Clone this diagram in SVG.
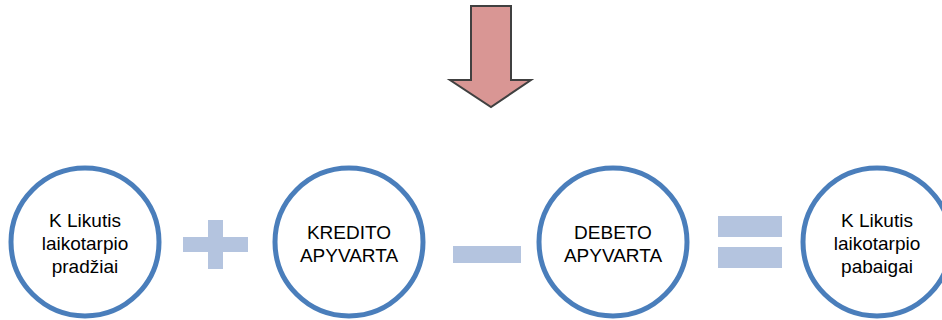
<svg xmlns="http://www.w3.org/2000/svg" width="942" height="320" viewBox="0 0 942 320">
<style>
.c{fill:#fff;stroke:#4A7EBB;stroke-width:5}
.t{font-family:"Liberation Sans",Arial,sans-serif;font-size:19px;fill:#000;text-anchor:middle}
.op{fill:#B4C4DF}
</style>
<rect width="942" height="320" fill="#fff"/>
<g id="arrow">
<polygon points="471,6 511,6 511,80 531,80 491,107 450,80 471,80" fill="#D99694" stroke="#404040" stroke-width="2" stroke-linejoin="miter"/>
</g>
<g id="node1">
<circle class="c" cx="85" cy="242" r="74"/>
<text class="t" x="85" y="227">K Likutis</text>
<text class="t" x="85" y="250">laikotarpio</text>
<text class="t" x="85" y="273">pradžiai</text>
</g>
<g id="plus">
<rect class="op" x="183" y="237" width="65" height="15"/>
<rect class="op" x="208" y="220" width="15" height="49"/>
</g>
<g id="node2">
<circle class="c" cx="349" cy="242" r="74"/>
<text class="t" x="349" y="239">KREDITO</text>
<text class="t" x="349" y="262">APYVARTA</text>
</g>
<g id="minus">
<rect class="op" x="453" y="246" width="68" height="17"/>
</g>
<g id="node3">
<circle class="c" cx="613" cy="242" r="74"/>
<text class="t" x="613" y="239">DEBETO</text>
<text class="t" x="613" y="262">APYVARTA</text>
</g>
<g id="equals">
<rect class="op" x="718" y="216" width="64" height="21"/>
<rect class="op" x="718" y="247" width="64" height="21"/>
</g>
<g id="node4">
<circle class="c" cx="877" cy="242" r="74"/>
<text class="t" x="877" y="227">K Likutis</text>
<text class="t" x="877" y="250">laikotarpio</text>
<text class="t" x="877" y="273">pabaigai</text>
</g>
<g id="connectors"></g>
</svg>
